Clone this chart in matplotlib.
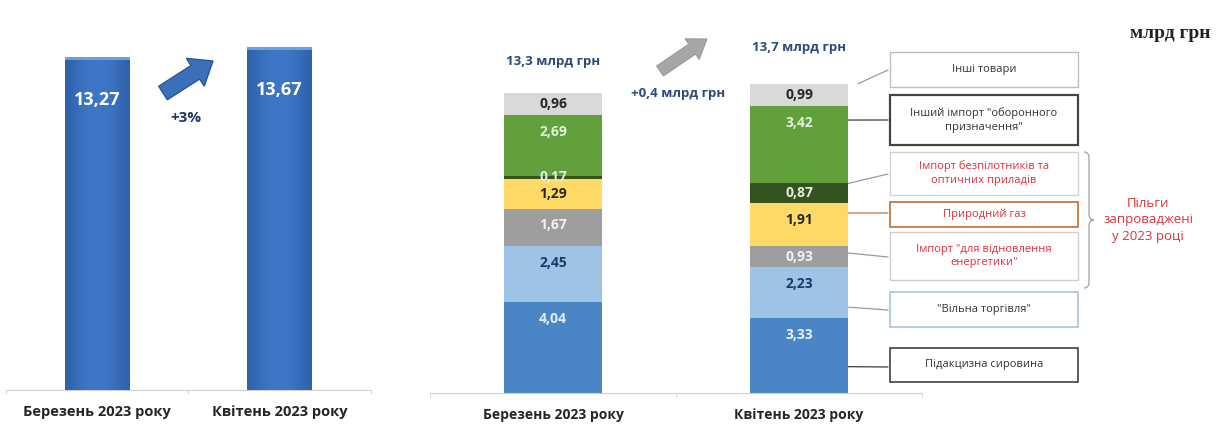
import numpy as np
import matplotlib
matplotlib.use("Agg")
import matplotlib.pyplot as plt
from matplotlib.patches import FancyArrow, Rectangle, ConnectionPatch, PathPatch
from matplotlib.path import Path

plt.rcParams["font.family"] = ["Open Sans", "DejaVu Sans"]

# ---- data ----
months = ["Березень 2023 року", "Квітень 2023 року"]
totals = [13.27, 13.67]
total_labels = ["13,27", "13,67"]
change_pct = "+3%"

stack_totals = ["13,3 млрд грн", "13,7 млрд грн"]
stack_change = "+0,4 млрд грн"
categories = [
    "Підакцизна сировина",
    "\"Вільна торгівля\"",
    "Імпорт \"для відновлення\nенергетики\"",
    "Природний газ",
    "Імпорт безпілотників та\nоптичних приладів",
    "Інший імпорт \"оборонного\nпризначення\"",
    "Інші товари",
]
march = [4.04, 2.45, 1.67, 1.29, 0.17, 2.69, 0.96]
april = [3.33, 2.23, 0.93, 1.91, 0.87, 3.42, 0.99]
seg_colors = ["#4a86c6", "#9dc3e6", "#9e9e9e", "#ffd966", "#35531f", "#62a03c", "#d9d9d9"]
label_colors = ["#e4eef9", "#1f3864", "#f2f2f2", "#262626", "#e2f0d9", "#e2f0d9", "#262626"]

W, H = 1216, 424
fig = plt.figure(figsize=(W / 100, H / 100), dpi=100)


def px_axes(x0, x1, ytop, ybot):
    return fig.add_axes([x0 / W, (H - ybot) / H, (x1 - x0) / W, (ybot - ytop) / H])


def style_axis(ax):
    for s in ["top", "right", "left"]:
        ax.spines[s].set_visible(False)
    ax.spines["bottom"].set_color("#d0d0d0")
    ax.set_yticks([])
    ax.set_xlim(-0.5, 1.5)
    ax.set_xticks([0, 1])
    ax.set_xticklabels(months, fontweight="bold", color="#262626")
    ax.tick_params(axis="x", length=0, pad=11)
    ax.set_xticks([-0.5, 0.5, 1.5], minor=True)
    ax.tick_params(axis="x", which="minor", length=3, color="#d0d0d0")


# ---- left chart ----
ax1 = px_axes(6, 371, 20, 390)
ax1.set_ylim(0, 14.74)
style_axis(ax1)
for lab in ax1.get_xticklabels():
    lab.set_fontsize(10.5)
bars = ax1.bar([0, 1], totals, width=0.356, color="#3d74c2", zorder=2)
grad = np.array([[0.0, 0.6, 0.85, 0.9, 0.85, 0.6, 0.0]])
cmap = matplotlib.colors.LinearSegmentedColormap.from_list("b", ["#2f62ae", "#4079c8"])
for b in bars:
    x, y = b.get_x(), b.get_y()
    im = ax1.imshow(grad, extent=[x, x + b.get_width(), y, y + b.get_height()],
                    cmap=cmap, vmin=0, vmax=1, aspect="auto",
                    interpolation="bicubic", zorder=3)
    im.set_clip_path(b)
    ax1.add_patch(Rectangle((x, y + b.get_height() - 0.12), b.get_width(), 0.12,
                            color="#6a9fe0", zorder=4, lw=0))
for i, (v, t) in enumerate(zip(totals, total_labels)):
    ax1.text(i, v - 1.7, t, ha="center", va="center", color="white",
             fontsize=13, fontweight="bold", zorder=5)

# ---- right chart ----
ax2 = px_axes(430, 922, 20, 393)
ax2.set_ylim(0, 16.5)
style_axis(ax2)
for lab in ax2.get_xticklabels():
    lab.set_fontsize(10)
bw = 0.4
for i, vals in enumerate([march, april]):
    bottom = 0
    for v, c, lc in zip(vals, seg_colors, label_colors):
        ax2.bar(i, v, bottom=bottom, width=bw, color=c, lw=0, zorder=2)
        ly = bottom + v - min(v / 2, 0.75)
        ax2.text(i, ly, f"{v:.2f}".replace(".", ","), ha="center", va="center",
                 color=lc, fontsize=10, fontweight="bold", zorder=3)
        bottom += v

# ---- overlay (pixel coords) ----
ov = fig.add_axes([0, 0, 1, 1], zorder=10)
ov.set_xlim(0, W)
ov.set_ylim(H, 0)
ov.axis("off")
ov.patch.set_alpha(0)

# arrows
ov.add_patch(FancyArrow(163, 93, 50, -32, width=16, head_width=33, head_length=21,
                        length_includes_head=True, fc="#3b6fb8", ec="#2a5694", lw=1))
ov.text(186, 118, change_pct, ha="center", va="center", fontsize=11,
        fontweight="bold", color="#1f3864")
ov.add_patch(FancyArrow(660, 71, 47, -32, width=12, head_width=25, head_length=18,
                        length_includes_head=True, fc="#a6a6a6", ec="#9a9a9a", lw=0.8))
ov.text(553, 61, stack_totals[0], ha="center", va="center", fontsize=9.5,
        fontweight="bold", color="#2f4a7a")
ov.text(799, 47, stack_totals[1], ha="center", va="center", fontsize=9.5,
        fontweight="bold", color="#2f4a7a")
ov.text(678, 94, stack_change, ha="center", va="center", fontsize=9.5,
        fontweight="bold", color="#2f4a7a")

ov.text(1170, 34, "млрд грн", ha="center", va="center", fontsize=14,
        fontweight="bold", color="#222222", family="Liberation Serif")

# legend boxes, top to bottom -> category index
boxes = [
    (6, 52, 87, "#bfbfbf", 1.0, "#333333"),
    (5, 95, 145, "#3d4a3a", 1.6, "#333333"),
    (4, 152, 195, "#d2d2d2", 1.0, "#e0303a"),
    (3, 202, 227, "#c8773f", 1.3, "#e0303a"),
    (2, 232, 280, "#cfcfcf", 1.0, "#e0303a"),
    (1, 292, 327, "#a9c1d9", 1.2, "#333333"),
    (0, 348, 382, "#404040", 1.2, "#333333"),
]
# where on each April segment the connector starts (fraction of segment height)
conn_frac = [0.35, 0.21, 0.68, 0.77, 1.0, 0.82, 1.0]
conn_box_y = {6: 70, 5: 120, 4: 174, 3: 213, 2: 257, 1: 310, 0: 367}
bx0, bx1 = 890, 1078
cum = np.concatenate([[0], np.cumsum(april)])
for idx, y0, y1, ec, lw, tc in boxes:
    ov.add_patch(Rectangle((bx0, y0), bx1 - bx0, y1 - y0, fill=False, ec=ec, lw=lw))
    ov.text((bx0 + bx1) / 2, (y0 + y1) / 2, categories[idx], ha="center", va="center",
            fontsize=8, color=tc, linespacing=1.35)
    ys = cum[idx] + april[idx] * conn_frac[idx]
    xs = 1 + bw / 2 + (0.04 if idx == 6 else 0)
    line_c = "#c8773f" if idx == 3 else ("#3d3d3d" if idx in (5, 0) else "#9a9a9a")
    fig.add_artist(ConnectionPatch(xyA=(xs, ys), coordsA=ax2.transData,
                                   xyB=(bx0 - 2, conn_box_y[idx]), coordsB=ov.transData,
                                   color=line_c, lw=0.9))

# brace
verts = [(1084, 152), (1089, 152), (1089, 158), (1089, 214), (1089, 220), (1094, 220),
         (1089, 220), (1089, 226), (1089, 282), (1089, 288), (1084, 288)]
codes = [Path.MOVETO, Path.CURVE3, Path.CURVE3, Path.LINETO, Path.CURVE3, Path.CURVE3,
         Path.CURVE3, Path.CURVE3, Path.LINETO, Path.CURVE3, Path.CURVE3]
ov.add_patch(PathPatch(Path(verts, codes), fill=False, ec="#a0a0a0", lw=0.9))
ov.text(1148, 220, "Пільги\nзапроваджені\nу 2023 році", ha="center", va="center",
        fontsize=9.5, color="#e0303a", linespacing=1.35)

fig.savefig("out.png", dpi=100)
